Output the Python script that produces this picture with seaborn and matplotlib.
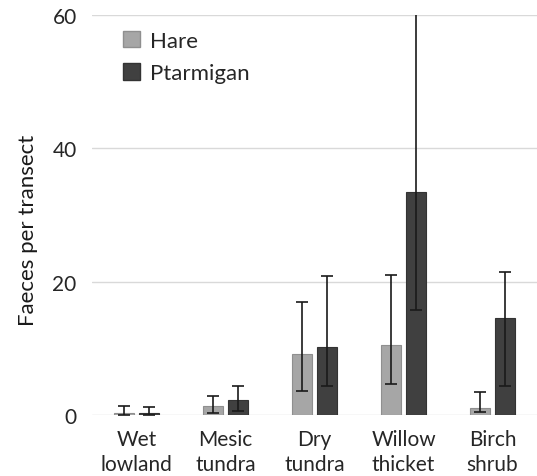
import matplotlib
matplotlib.use("Agg")
import matplotlib.pyplot as plt
import seaborn as sns
import pandas as pd
import numpy as np
from matplotlib.patches import Patch

habitats = ["Wet\nlowland", "Mesic\ntundra", "Dry\ntundra", "Willow\nthicket", "Birch\nshrub"]
species = ["Hare", "Ptarmigan"]
hare = [0.3, 1.3, 9.2, 10.5, 1.1]
hare_lo = [0.0, 0.3, 3.6, 4.6, 0.4]
hare_hi = [1.4, 2.8, 17.0, 21.0, 3.4]
ptarmigan = [0.3, 2.3, 10.2, 33.4, 14.5]
ptarmigan_lo = [0.0, 0.6, 4.4, 15.8, 4.4]
ptarmigan_hi = [1.2, 4.4, 20.9, 70.0, 21.5]
yticks = [0, 20, 40, 60]

sns.set_theme(style="white")
plt.rcParams['font.family'] = ['Lato', 'DejaVu Sans']

df = pd.DataFrame({
    "habitat": habitats * 2,
    "species": [species[0]] * 5 + [species[1]] * 5,
    "value": hare + ptarmigan,
})

colors = {"Hare": "#a6a6a6", "Ptarmigan": "#404040"}
edges = {"Hare": "#8f8f8f", "Ptarmigan": "#333333"}

fig = plt.figure(figsize=(5.37, 4.77), dpi=100)
ax = fig.add_axes([92/537, 1-416/477, 1-92/537, 400/477])
sns.barplot(data=df, x="habitat", y="value", hue="species", order=habitats,
            hue_order=species, palette=colors, width=0.56, gap=0.2,
            legend=False, ax=ax, errorbar=None)

lows = [hare_lo, ptarmigan_lo]
highs = [hare_hi, ptarmigan_hi]
vals = [hare, ptarmigan]
bar_containers = list(ax.containers)
for i, cont in enumerate(bar_containers):
    xs = [p.get_x() + p.get_width()/2 for p in cont.patches]
    for p in cont.patches:
        p.set_edgecolor(edges[species[i]])
        p.set_linewidth(0.8)
    v = np.array(vals[i]); lo = np.array(lows[i]); hi = np.array(highs[i])
    ax.errorbar(xs, v, yerr=[v - lo, hi - v], fmt="none", ecolor="#1a1a1a",
                elinewidth=1.2, capsize=4, capthick=1.2, zorder=5)

ax.set_ylim(0, 60)
ax.set_xlim(-0.5, 4.5)
ax.set_yticks(yticks)
ax.yaxis.grid(True, color="#d9d9d9", linewidth=1)
ax.set_axisbelow(True)
for s in ax.spines.values():
    s.set_visible(False)
ax.tick_params(axis="both", length=0, labelsize=15, colors="#262626")
ax.tick_params(axis="x", pad=10)
ax.tick_params(axis="y", pad=11)
for lab in ax.get_xticklabels():
    lab.set_linespacing(1.35)
ax.set_xlabel("")
ax.set_ylabel("Faeces per transect", fontsize=16, color="#1a1a1a")
ax.yaxis.set_label_coords(-0.122, 0.465)

handles = [Patch(facecolor=colors[s], edgecolor=edges[s], label=s) for s in species]
ax.legend(handles=handles, loc="upper left", bbox_to_anchor=(114/537, 1-23/477),
          bbox_transform=fig.transFigure, frameon=False, fontsize=16,
          handlelength=0.75, handleheight=0.75, handletextpad=0.45, labelspacing=0.55,
          borderaxespad=0)

fig.savefig("out.png", dpi=100)
